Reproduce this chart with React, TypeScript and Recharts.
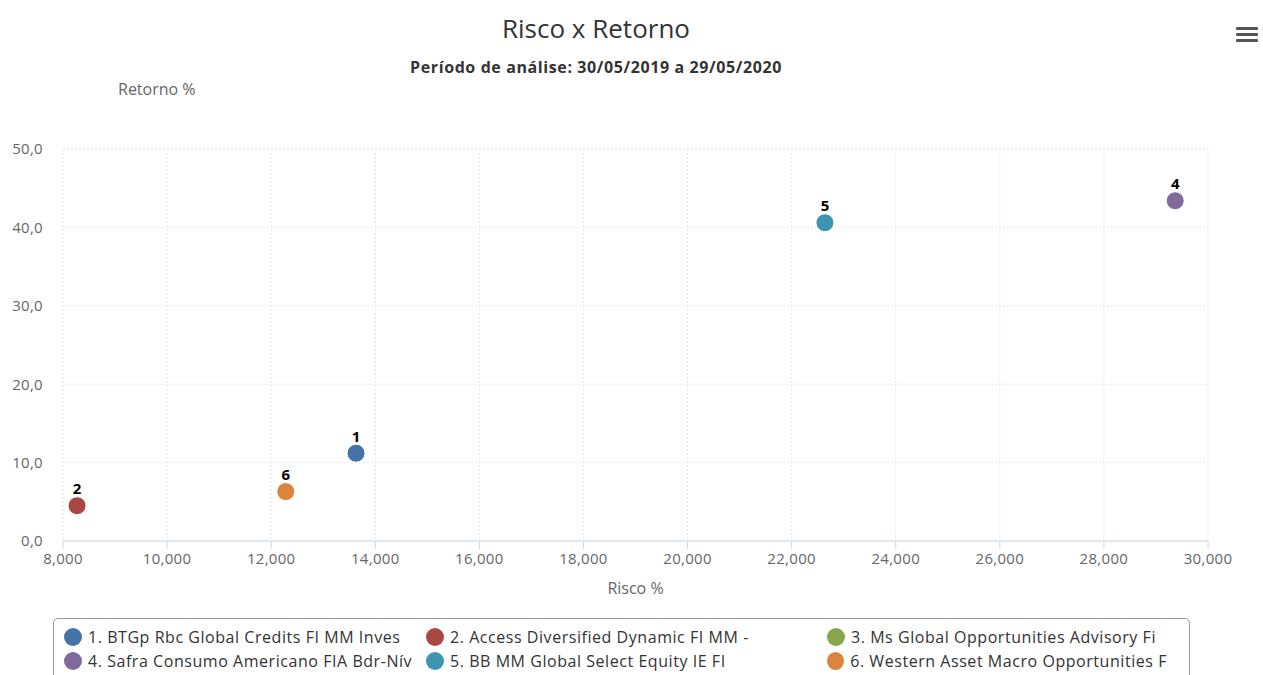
import { ScatterChart, Scatter, XAxis, YAxis, CartesianGrid, LabelList } from 'recharts';

// fund names as shown in the legend
const fundNames = [
  '1. BTGp Rbc Global Credits FI MM Inves',
  '2. Access Diversified Dynamic FI MM -',
  '3. Ms Global Opportunities Advisory Fi',
  '4. Safra Consumo Americano FIA Bdr-Nív',
  '5. BB MM Global Select Equity IE FI',
  '6. Western Asset Macro Opportunities F',
];
const fundIds = ['1', '2', '3', '4', '5', '6'];
// risk (x) and return (y); fund 3 has no point on the chart
const riskValues: (number | null)[] = [13630, 8270, null, 29370, 22640, 12280];
const returnValues: (number | null)[] = [11.2, 4.5, null, 43.4, 40.6, 6.3];
const fundColors = ['#4572A7', '#AA4643', '#89A54E', '#80699B', '#3D96AE', '#DB843D'];

const xTicks = [8000, 10000, 12000, 14000, 16000, 18000, 20000, 22000, 24000, 26000, 28000, 30000];
const yTicks = [0, 10, 20, 30, 40, 50];

const font = '"Open Sans", "Noto Sans", sans-serif';

const seriesData = fundIds.map((id, i) =>
  riskValues[i] == null ? [] : [{ id, risco: riskValues[i], retorno: returnValues[i] }]
);

const Dot = (props: any) => (
  <circle cx={props.cx} cy={props.cy} r={9} fill={props.fill} stroke="#fff" strokeWidth={1} />
);

const tickStyle = { fill: '#666', fontSize: 15, fontFamily: font, letterSpacing: 0.3 };

export default function App() {
  return (
    <div style={{ position: 'absolute', left: 0, top: 0, width: 1263, height: 675, background: '#fff', fontFamily: font, overflow: 'hidden' }}>
      <div style={{ position: 'absolute', top: 10, left: 0, width: 1192, textAlign: 'center', fontSize: 26, color: '#333' }}>
        Risco x Retorno
      </div>
      <div style={{ position: 'absolute', top: 56, left: 0, width: 1192, textAlign: 'center', fontSize: 16, fontWeight: 'bold', color: '#333', letterSpacing: 0.6 }}>
        Período de análise: 30/05/2019 a 29/05/2020
      </div>
      <div style={{ position: 'absolute', top: 78, left: 118, fontSize: 16, color: '#666' }}>Retorno %</div>
      <div style={{ position: 'absolute', top: 577, left: 0, width: 1271, textAlign: 'center', fontSize: 16, color: '#666' }}>Risco %</div>

      <div style={{ position: 'absolute', top: 27, left: 1236 }}>
        {[0, 1, 2].map((k) => (
          <div key={k} style={{ width: 22, height: 3, background: '#555', marginBottom: 3, borderRadius: 1 }} />
        ))}
      </div>

      <div style={{ position: 'absolute', top: 0, left: 0 }}>
        <ScatterChart width={1263} height={600} margin={{ top: 149, right: 55, left: 13, bottom: 29 }}>
          <CartesianGrid stroke="#e6e6e6" strokeDasharray="2 2" horizontal vertical />
          <XAxis
            type="number"
            dataKey="risco"
            domain={[8000, 30000]}
            ticks={xTicks}
            allowDataOverflow
            height={30}
            stroke="#ccd6eb"
            tickSize={8}
            tickMargin={4}
            tick={tickStyle}
            tickFormatter={(v: number) => v.toLocaleString('en-US')}
          />
          <YAxis
            type="number"
            dataKey="retorno"
            domain={[0, 50]}
            ticks={yTicks}
            width={50}
            axisLine={false}
            tickLine={false}
            tickMargin={14}
            tick={tickStyle}
            tickFormatter={(v: number) => v.toFixed(1).replace('.', ',')}
          />
          {seriesData.map((d, i) => (
            <Scatter key={fundIds[i]} name={fundNames[i]} data={d} fill={fundColors[i]} shape={Dot} isAnimationActive={false}>
              <LabelList
                dataKey="id"
                position="top"
                offset={7}
                style={{ fontSize: 15, fontWeight: 'bold', fill: '#000', stroke: '#fff', strokeWidth: 2, paintOrder: 'stroke', fontFamily: font }}
              />
            </Scatter>
          ))}
        </ScatterChart>
      </div>

      <div
        style={{
          position: 'absolute', left: 53, top: 618, width: 1137, height: 80,
          border: '1px solid #999', borderRadius: 5, boxSizing: 'border-box',
          display: 'grid', gridTemplateColumns: '362px 401px 340px', rowGap: 2,
          padding: '7px 0 0 10px', alignContent: 'start',
        }}
      >
        {fundNames.map((n, i) => (
          <div key={n} style={{ display: 'flex', alignItems: 'center', fontSize: 16, color: '#333', whiteSpace: 'nowrap', letterSpacing: 0.55, height: 22 }}>
            <span style={{ display: 'inline-block', width: 18, height: 18, borderRadius: '50%', background: fundColors[i], marginRight: 6 }} />
            {n}
          </div>
        ))}
      </div>
    </div>
  );
}
